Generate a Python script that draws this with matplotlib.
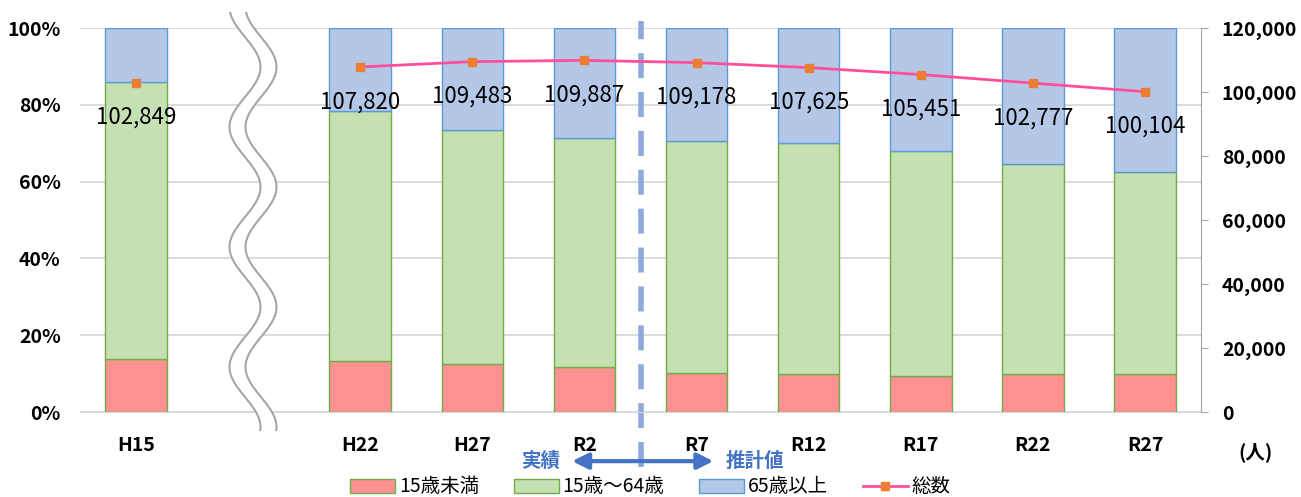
import matplotlib
matplotlib.use('Agg')
from matplotlib import pyplot as plt
import numpy as np

plt.rcParams['font.family'] = ['Noto Sans CJK JP', 'DejaVu Sans']

# データ
nendo = ['H15', 'H22', 'H27', 'R2', 'R7', 'R12', 'R17', 'R22', 'R27']
posicion = [0, 2, 3, 4, 5, 6, 7, 8, 9]
menos15 = [13.8, 13.4, 12.5, 11.8, 10.2, 9.8, 9.5, 9.8, 9.8]
de15a64 = [72.2, 65.0, 60.9, 59.5, 60.5, 60.3, 58.5, 54.8, 52.7]
mas65 = [14.0, 21.6, 26.6, 28.7, 29.3, 29.9, 32.0, 35.4, 37.5]
total = [102849, 107820, 109483, 109887, 109178, 107625, 105451, 102777, 100104]

W, H = 1301, 497
fig = plt.figure(figsize=(W / 100, H / 100), dpi=100)
ax = fig.add_axes([80 / W, (H - 412) / H, (1201 - 80) / W, 384 / H])

ancho = 0.55
verde_borde = '#70AD47'
ax.bar(posicion, menos15, ancho, color='#FF9191', edgecolor=verde_borde, linewidth=1, label='15歳未満')
ax.bar(posicion, de15a64, ancho, bottom=menos15, color='#C5E0B3', edgecolor=verde_borde, linewidth=1, label='15歳～64歳')
abajo = np.array(menos15) + np.array(de15a64)
ax.bar(posicion, mas65, ancho, bottom=abajo, color='#B4C7E7', edgecolor='#5B9BD5', linewidth=1, label='65歳以上')

ax.set_xlim(-0.5, 9.5)
ax.set_ylim(0, 100)
ax.set_yticks(range(0, 101, 20))
ax.set_yticklabels([str(v) + '%' for v in range(0, 101, 20)])
ax.set_xticks(posicion)
ax.set_xticklabels(nendo)
ax.grid(axis='y', color='#D9D9D9', linewidth=1.3)
ax.set_axisbelow(True)
for s in ['left', 'right', 'top']:
	ax.spines[s].set_visible(False)
ax.spines['bottom'].set_color('#D9D9D9')
ax.tick_params(axis='y', length=0, pad=14, labelsize=14)
ax.tick_params(axis='x', length=0, pad=17, labelsize=14)
for t in ax.get_xticklabels() + ax.get_yticklabels():
	t.set_fontweight('bold')

ax2 = ax.twinx()
# H15 は波線の向こう側なので線でつながない
ax2.plot(posicion[:1], total[:1], linestyle='none', marker='s', markersize=6,
	markerfacecolor='#ED7D31', markeredgecolor='#ED7D31')
ax2.plot(posicion[1:], total[1:], color='#FF4F9A', linewidth=2, marker='s', markersize=6,
	markerfacecolor='#ED7D31', markeredgecolor='#ED7D31', label='総数')
ax2.set_ylim(0, 120000)
ax2.set_yticks(range(0, 120001, 20000))
ax2.set_yticklabels(['{:,}'.format(v) for v in range(0, 120001, 20000)])
for s in ['left', 'top', 'bottom']:
	ax2.spines[s].set_visible(False)
ax2.spines['right'].set_color('#A6A6A6')
ax2.tick_params(axis='y', direction='out', length=5, color='#A6A6A6', pad=10, labelsize=14)
for t in ax2.get_yticklabels():
	t.set_fontweight('bold')

for x, v in zip(posicion, total):
	ax2.annotate('{:,}'.format(v), (x, v), xytext=(0, -25), textcoords='offset points',
		ha='center', va='center', fontsize=16)

# 実績 / 推計値
trans = ax.get_xaxis_transform()
ax.plot([4.5, 4.5], [-0.143, 1.018], transform=trans, clip_on=False,
	color='#8EA9DB', linewidth=4, dashes=(4.5, 2.5), zorder=1)
ax.annotate('', xy=(5.15, -0.128), xytext=(3.89, -0.128), xycoords=trans,
	arrowprops=dict(arrowstyle='<|-|>', color='#4472C4', lw=3, mutation_scale=24,
		shrinkA=0, shrinkB=0), annotation_clip=False)
ax.text(3.61, -0.128, '実績', transform=trans, ha='center', va='center',
	fontsize=14, fontweight='bold', color='#4472C4')
ax.text(5.52, -0.128, '推計値', transform=trans, ha='center', va='center',
	fontsize=14, fontweight='bold', color='#4472C4')
fig.text(1255 / W, 1 - 452 / H, '(人)', ha='center', va='center', fontsize=14, fontweight='bold')

# 波線
capa = fig.add_axes([0, 0, 1, 1])
capa.set_xlim(0, W)
capa.set_ylim(H, 0)
capa.axis('off')
capa.patch.set_alpha(0)
yy = np.linspace(13, 430, 300)
xx = 245 + 15.5 * np.cos(2 * np.pi * (yy - 67) / 120)
capa.fill_betweenx(yy, xx, xx + 16, color='white', linewidth=0)
capa.plot(xx, yy, color='#A6A6A6', linewidth=1.5)
capa.plot(xx + 16, yy, color='#A6A6A6', linewidth=1.5)

h1, l1 = ax.get_legend_handles_labels()
h2, l2 = ax2.get_legend_handles_labels()
fig.legend(h1 + h2, l1 + l2, loc='center', bbox_to_anchor=(0.5, 1 - 487 / H), ncol=4,
	frameon=False, fontsize=14, handlelength=2.3, handleheight=0.7, columnspacing=1.8,
	handletextpad=0.2)

fig.savefig('out.png', dpi=100)
